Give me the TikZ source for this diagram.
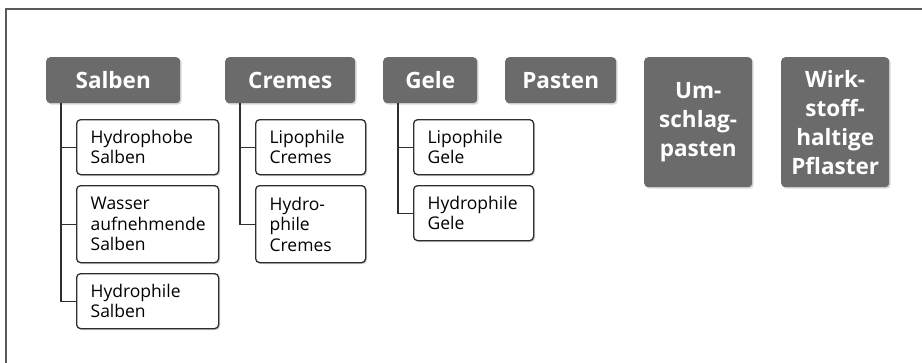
\documentclass[tikz,border=0pt]{standalone}
\usepackage{fontspec}
\setmainfont{Open Sans}
\usetikzlibrary{shadows}
\definecolor{hdrgray}{HTML}{6B6B6B}
\definecolor{boxline}{HTML}{2E2E2E}
\definecolor{framegray}{HTML}{5A5A5A}

\begin{document}
\begin{tikzpicture}[x=1pt,y=-1pt]
\tikzstyle{every node}+=[inner sep=0pt]
\tikzstyle{softshadow}=[drop shadow={shadow xshift=1.5pt, shadow yshift=-1.5pt, opacity=0.15, fill=black}]
\tikzstyle{hdr}=[softshadow, fill=hdrgray, rounded corners=4pt, anchor=north west, text=white,
  font=\fontsize{22.5}{29}\selectfont\bfseries, align=center]
\tikzstyle{sub}=[softshadow, draw=boxline, line width=1.3pt, fill=white, rounded corners=4pt, anchor=north west,
  inner xsep=14pt, font=\fontsize{17.5}{20.5}\selectfont, align=left]
\tikzstyle{link}=[draw=boxline, line width=1.3pt]
\useasboundingbox (0,0) rectangle (922,362);
\clip (0,0) rectangle (922,362);
\draw [framegray, line width=1.2pt] (6,9) rectangle (940,380);
% groups
\node [hdr, minimum width=134pt, minimum height=46pt] (salben) at (46,57) {Salben};
\node [hdr, minimum width=130pt, minimum height=46pt] (cremes) at (225,57) {Cremes};
\node [hdr, minimum width=94pt, minimum height=46pt] (gele) at (383,57) {Gele};
\node [hdr, minimum width=111pt, minimum height=46pt] (pasten) at (505,57) {Pasten};
\node [hdr, minimum width=108pt, minimum height=130pt] (umschlag) at (644,57) {Um-\\schlag-\\pasten};
\node [hdr, minimum width=108pt, minimum height=130pt] (pflaster) at (781,57) {Wirk-\\stoff-\\haltige\\Pflaster};
% Salben
\node [sub, text width=114pt, minimum height=55pt] (hydrophobS) at (76,119) {Hydrophobe\\Salben};
\node [sub, text width=114pt, minimum height=77pt] (wasserS) at (76,185) {Wasser\\aufnehmende\\Salben};
\node [sub, text width=114pt, minimum height=55pt] (hydrophilS) at (76,273) {Hydrophile\\Salben};
% Cremes
\node [sub, text width=82pt, minimum height=55pt] (lipophilC) at (255,119) {Lipophile\\Cremes};
\node [sub, text width=82pt, minimum height=77pt] (hydrophilC) at (255,185) {Hydro-\\phile\\Cremes};
% Gele
\node [sub, text width=92pt, minimum height=55pt] (lipophilG) at (413,119) {Lipophile\\Gele};
\node [sub, text width=92pt, minimum height=55pt] (hydrophilG) at (413,185) {Hydrophile\\Gele};
% tree lines
\foreach \c in {hydrophobS,wasserS,hydrophilS}
  \draw [link] ([xshift=15pt]salben.south west) |- (\c.west);
\foreach \c in {lipophilC,hydrophilC}
  \draw [link] ([xshift=15pt]cremes.south west) |- (\c.west);
\foreach \c in {lipophilG,hydrophilG}
  \draw [link] ([xshift=15pt]gele.south west) |- (\c.west);
\end{tikzpicture}
\end{document}
